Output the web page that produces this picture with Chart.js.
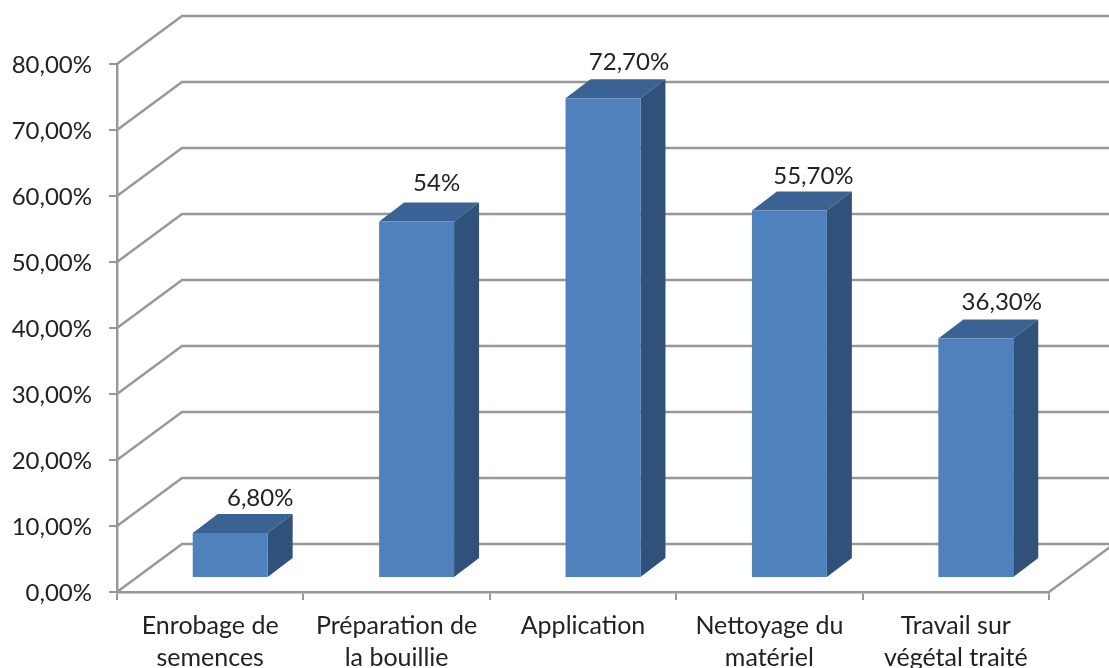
<!DOCTYPE html>
<html>
<head>
<meta charset="utf-8">
<title>Graphique</title>
<script src="https://cdn.jsdelivr.net/npm/chart.js@4"></script>
<style>
html, body { margin: 0; padding: 0; background: #fff; overflow: hidden; }
canvas { display: block; }
</style>
</head>
<body>
<canvas id="grafico" width="1109" height="668"></canvas>
<script>
var categorias = [
    ['Enrobage de', 'semences'],
    ['Préparation de', 'la bouillie'],
    'Application',
    ['Nettoyage du', 'matériel'],
    ['Travail sur', 'végétal traité']
];
var valores = [6.8, 54, 72.7, 55.7, 36.3];
var etiquetas = ['6,80%', '54%', '72,70%', '55,70%', '36,30%'];

var colorGrid = '#989898';
var colorTexto = '#222222';
var fuente = 'Lato, "Liberation Sans", sans-serif';

// profundidad del suelo y de las barras (vista 3D)
var fondoX = 65, fondoY = -48;
var barraX = 20, barraY = -14;
var profX = 25, profY = -19;

// las etiquetas estan colocadas a mano en el original
var ajusteEtiquetaX = [30, 20, 26, 24, 26];
var ajusteEtiquetaY = [-35, -38, -36, -34, -36];

var vista3d = {
    id: 'vista3d',
    beforeDatasetsDraw: function (chart) {
        var c = chart.ctx, a = chart.chartArea, y = chart.scales.y;
        c.save();
        c.strokeStyle = colorGrid;
        c.lineWidth = 2.4;
        // paredes: una linea por cada tick del eje
        y.ticks.forEach(function (t) {
            var py = y.getPixelForValue(t.value);
            c.beginPath();
            c.moveTo(a.left, py);
            c.lineTo(a.left + fondoX, py + fondoY);
            c.lineTo(chart.width + 5, py + fondoY);
            c.stroke();
        });
        // borde derecho del suelo
        c.beginPath();
        c.moveTo(a.right, a.bottom);
        c.lineTo(a.right + fondoX, a.bottom + fondoY);
        c.stroke();

        // caras superior y lateral de las barras
        chart.getDatasetMeta(0).data.forEach(function (b) {
            var izq = b.x - b.width / 2 + barraX;
            var der = b.x + b.width / 2 + barraX;
            var arr = b.y + barraY;
            var aba = b.base + barraY;
            c.fillStyle = '#3a6393';
            c.beginPath();
            c.moveTo(izq, arr);
            c.lineTo(izq + profX, arr + profY);
            c.lineTo(der + profX, arr + profY);
            c.lineTo(der, arr);
            c.closePath();
            c.fill();
            c.fillStyle = '#30527a';
            c.beginPath();
            c.moveTo(der, arr);
            c.lineTo(der + profX, arr + profY);
            c.lineTo(der + profX, aba + profY);
            c.lineTo(der, aba);
            c.closePath();
            c.fill();
        });
        c.restore();
        // la cara frontal la dibuja la libreria, desplazada
        c.save();
        c.translate(barraX, barraY);
    },
    afterDatasetsDraw: function (chart) {
        var c = chart.ctx;
        c.restore();
        c.save();
        c.fillStyle = colorTexto;
        c.font = '24px ' + fuente;
        c.textAlign = 'center';
        c.textBaseline = 'middle';
        chart.getDatasetMeta(0).data.forEach(function (b, i) {
            c.fillText(etiquetas[i], b.x + barraX + ajusteEtiquetaX[i], b.y + barraY + ajusteEtiquetaY[i]);
        });
        c.restore();
    }
};

var ctx = document.getElementById('grafico').getContext('2d');
var chart = new Chart(ctx, {
    type: 'bar',
    data: {
        labels: categorias,
        datasets: [{
                data: valores,
                backgroundColor: '#4f81bd',
                barPercentage: 0.402,
                categoryPercentage: 1
            }]
    },
    plugins: [vista3d],
    options: {
        responsive: false,
        animation: false,
        layout: {
            padding: {top: 64, right: 60, left: 0, bottom: 0}
        },
        plugins: {
            legend: {display: false},
            tooltip: {enabled: false}
        },
        scales: {
            x: {
                afterFit: function (s) { s.height = 76; },
                border: {color: colorGrid, width: 2.4},
                grid: {offset: true, drawOnChartArea: false, color: colorGrid, lineWidth: 2, tickLength: 8},
                ticks: {
                    color: colorTexto,
                    font: {family: fuente, size: 25, lineHeight: 1.28},
                    padding: 10,
                    maxRotation: 0,
                    autoSkip: false
                }
            },
            y: {
                min: 0,
                max: 80,
                afterFit: function (s) { s.width = 117; },
                border: {color: colorGrid, width: 2.4},
                grid: {drawOnChartArea: false, color: colorGrid, lineWidth: 2, tickLength: 8},
                ticks: {
                    stepSize: 10,
                    color: colorTexto,
                    font: {family: fuente, size: 24},
                    padding: 17,
                    labelOffset: 1,
                    callback: function (v) { return v.toFixed(2).replace('.', ',') + '%'; }
                }
            }
        }
    }
});
</script>
</body>
</html>
